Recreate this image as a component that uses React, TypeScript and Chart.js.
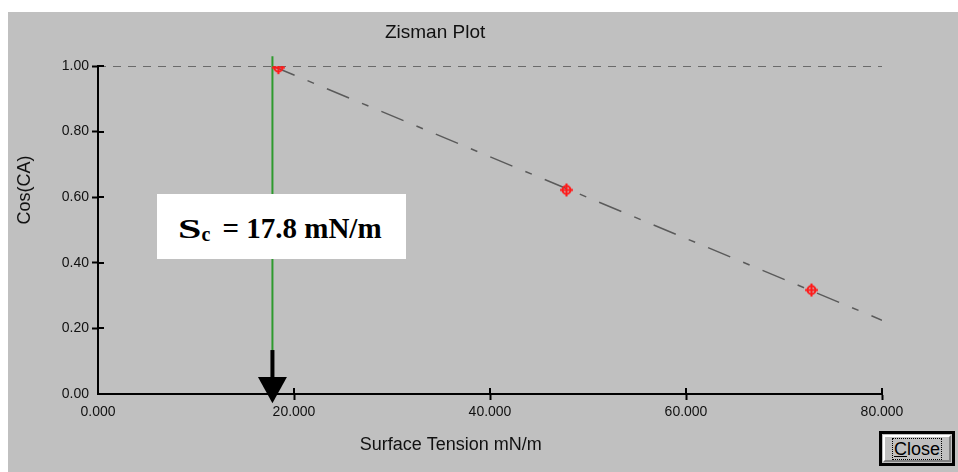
import React, { useEffect, useRef } from "react";
import { Chart, registerables } from "chart.js";

Chart.register(...registerables);

const TITLE = "Zisman Plot";
const X_TITLE = "Surface Tension mN/m";
const Y_TITLE = "Cos(CA)";
const X_TICKS = [0, 20, 40, 60, 80];
const Y_TICKS = [0, 0.2, 0.4, 0.6, 0.8, 1.0];
const POINT_X = [18.4, 47.8, 72.8];
const POINT_Y = [0.995, 0.622, 0.317];
const FIT_X = [17.8, 80];
const FIT_Y = [1.0, 0.225];
const REF_X = [0, 80];
const REF_Y = [1, 1];
const SC = 17.8;
const SC_LINE_Y = [0, 1.03];
const ARROW_Y = [0.134, 0.052, -0.028];
const BUTTON_LABEL = "Close";

const zip = (xs: number[], ys: number[]) => xs.map((x, i) => ({ x, y: ys[i] }));

function makeMarker() {
  const c = document.createElement("canvas");
  c.width = 15;
  c.height = 15;
  const g = c.getContext("2d")!;
  g.strokeStyle = "#ff1a1a";
  g.lineWidth = 2;
  g.beginPath();
  g.arc(7.5, 7.5, 4, 0, Math.PI * 2);
  g.stroke();
  g.beginPath();
  g.moveTo(7.5, 1);
  g.lineTo(7.5, 14);
  g.moveTo(1, 7.5);
  g.lineTo(14, 7.5);
  g.stroke();
  return c;
}

const decor = {
  id: "zismanDecor",
  afterDraw(chart: any) {
    const { ctx, chartArea: a, scales } = chart;
    const x = scales.x;
    const y = scales.y;
    ctx.save();
    ctx.strokeStyle = "#000";
    ctx.lineWidth = 2;
    ctx.beginPath();
    Y_TICKS.forEach((v) => {
      if (v === 0) return;
      const py = Math.round(y.getPixelForValue(v));
      ctx.moveTo(a.left, py);
      ctx.lineTo(a.left + 6, py);
    });
    X_TICKS.forEach((v) => {
      if (v === 0) return;
      const px = Math.round(x.getPixelForValue(v));
      ctx.moveTo(px, a.bottom - 6);
      ctx.lineTo(px, a.bottom);
    });
    ctx.stroke();

    // arrow
    const ax = x.getPixelForValue(SC);
    const yTop = y.getPixelForValue(ARROW_Y[0]);
    const yHead = y.getPixelForValue(ARROW_Y[1]);
    const yTip = y.getPixelForValue(ARROW_Y[2]);
    ctx.fillStyle = "#000";
    ctx.fillRect(ax - 2, yTop, 4, yHead - yTop + 1);
    ctx.beginPath();
    ctx.moveTo(ax - 14.5, yHead);
    ctx.lineTo(ax + 14.5, yHead);
    ctx.lineTo(ax, yTip);
    ctx.closePath();
    ctx.fill();

    // titles
    ctx.fillStyle = "#111";
    ctx.textAlign = "center";
    ctx.textBaseline = "middle";
    ctx.font = '19px "Liberation Sans", Arial, sans-serif';
    ctx.fillText(TITLE, a.left + 0.43 * (a.right - a.left), a.top - 33);
    ctx.font = '18px "Liberation Sans", Arial, sans-serif';
    ctx.fillText(X_TITLE, a.left + 0.45 * (a.right - a.left), a.bottom + 51);
    ctx.save();
    ctx.translate(17, a.top + 0.378 * (a.bottom - a.top));
    ctx.rotate(-Math.PI / 2);
    ctx.fillText(Y_TITLE, 0, 0);
    ctx.restore();
    ctx.restore();
  },
};

export default function App() {
  const ref = useRef<HTMLCanvasElement>(null);

  useEffect(() => {
    if (!ref.current) return;
    const marker = makeMarker();
    const tickFont = { family: '"Liberation Sans", Arial, sans-serif', size: 14 };
    const chart = new Chart(ref.current, {
      type: "scatter",
      data: {
        datasets: [
          {
            label: "ref",
            data: zip(REF_X, REF_Y),
            showLine: true,
            borderColor: "#6a6a6a",
            borderWidth: 2,
            borderDash: [8, 7],
            pointRadius: 0,
            order: 5,
          },
          {
            label: "fit",
            data: zip(FIT_X, FIT_Y),
            showLine: true,
            borderColor: "#5a5a5a",
            borderWidth: 1.5,
            borderDash: [24, 14, 7, 14],
            pointRadius: 0,
            order: 4,
          },
          {
            label: "sc",
            data: SC_LINE_Y.map((v) => ({ x: SC, y: v })),
            showLine: true,
            borderColor: "#2e9a2e",
            borderWidth: 2,
            pointRadius: 0,
            clip: false,
            order: 3,
          },
          {
            label: "data",
            data: zip(POINT_X, POINT_Y),
            showLine: false,
            pointStyle: marker,
            pointRadius: 7,
            order: 1,
          },
        ],
      },
      options: {
        animation: false,
        responsive: false,
        events: [],
        layout: { padding: { left: 40, right: 76, top: 54, bottom: 38 } },
        plugins: {
          legend: { display: false },
          tooltip: { enabled: false },
          title: { display: false },
        },
        scales: {
          x: {
            type: "linear",
            min: 0,
            max: 80,
            afterBuildTicks: (s: any) => {
              s.ticks = X_TICKS.map((v) => ({ value: v }));
            },
            afterFit: (s: any) => {
              s.height = 40;
            },
            border: { display: true, color: "#000", width: 2 },
            grid: {
              display: true,
              drawOnChartArea: false,
              drawTicks: true,
              tickLength: 6,
              tickWidth: 2,
              tickColor: (c: any) => (c.tick && c.tick.value === 0 ? "rgba(0,0,0,0)" : "#000"),
            },
            ticks: {
              color: "#111",
              font: tickFont,
              padding: 4,
              maxRotation: 0,
              callback: (v: any) => Number(v).toFixed(3),
            },
          },
          y: {
            type: "linear",
            min: 0,
            max: 1,
            afterBuildTicks: (s: any) => {
              s.ticks = Y_TICKS.map((v) => ({ value: v }));
            },
            afterFit: (s: any) => {
              s.width = 50;
            },
            border: { display: true, color: "#000", width: 2 },
            grid: {
              display: true,
              drawOnChartArea: false,
              drawTicks: true,
              tickLength: 6,
              tickWidth: 2,
              tickColor: (c: any) => (c.tick && c.tick.value === 0 ? "rgba(0,0,0,0)" : "#000"),
            },
            ticks: {
              color: "#111",
              font: tickFont,
              padding: 3,
              callback: (v: any) => Number(v).toFixed(2),
            },
          },
        },
      },
      plugins: [decor],
    });
    return () => chart.destroy();
  }, []);

  return (
    <div
      style={{
        position: "fixed",
        left: 8,
        top: 12,
        width: 950,
        height: 460,
        background: "#c0c0c0",
        overflow: "hidden",
      }}
    >
      <canvas ref={ref} width={950} height={460} style={{ display: "block" }} />
      <div
        style={{
          position: "absolute",
          left: 149,
          top: 182,
          width: 249,
          height: 65,
          background: "#fff",
          display: "flex",
          alignItems: "center",
          boxSizing: "border-box",
          paddingLeft: 21,
          paddingTop: 4,
          fontFamily: '"Liberation Serif", "Times New Roman", serif',
          fontWeight: "bold",
          color: "#000",
          whiteSpace: "nowrap",
        }}
      >
        <span
          style={{
            display: "inline-block",
            fontSize: 28,
            transform: "scaleX(1.5)",
            transformOrigin: "left center",
            marginRight: 8,
          }}
        >
          S
        </span>
        <span style={{ fontSize: 20, position: "relative", top: 6, marginRight: 12 }}>c</span>
        <span style={{ fontSize: 29 }}>= 17.8 mN/m</span>
      </div>
      <div
        style={{
          position: "absolute",
          left: 871,
          top: 419,
          width: 76,
          height: 35,
          boxSizing: "border-box",
          border: "3px solid #000",
          background: "#c0c0c0",
          padding: 1,
        }}
      >
        <div
          style={{
            width: "100%",
            height: "100%",
            boxSizing: "border-box",
            borderTop: "2px solid #fff",
            borderLeft: "2px solid #fff",
            borderRight: "2px solid #808080",
            borderBottom: "2px solid #808080",
            display: "flex",
            alignItems: "center",
            justifyContent: "center",
          }}
        >
          <span
            style={{
              border: "1px dotted #000",
              padding: "0 1px",
              fontFamily: '"Liberation Sans", Arial, sans-serif',
              fontSize: 18,
              lineHeight: "20px",
              color: "#000",
            }}
          >
            <u>C</u>
            {BUTTON_LABEL.slice(1)}
          </span>
        </div>
      </div>
    </div>
  );
}
